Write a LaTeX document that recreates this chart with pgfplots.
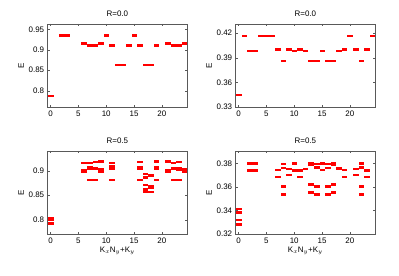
\documentclass[border=0pt]{standalone}
\usepackage{fontspec}
\setmainfont{Liberation Sans}
\usepackage{pgfplots}
\pgfplotsset{compat=1.18}
\pgfplotsset{
  myax/.style={
    scale only axis, width=139.3bp, height=83bp, anchor=south west,
    xmin=-0.5, xmax=24.5, xtick={0,5,10,15,20},
    tick align=inside, tick pos=both, major tick length=2bp,
    axis line style={gray!70!black, line width=0.5pt},
    tick style={gray!70!black},
    tick label style={font=\fontsize{8}{9}\selectfont},
    label style={font=\fontsize{8}{9}\selectfont},
    title style={font=\fontsize{8}{9}\selectfont, yshift=-2bp},
    /pgf/number format/assume math mode=true,
    /pgf/number format/.cd, fixed, precision=2, /pgfplots/.cd,
    ylabel={E}, ylabel style={yshift=-2bp},
  },
  dat/.style={only marks, mark=square*, mark size=2.3bp, color=red,
    mark options={draw=none, fill=red, yscale=0.3}},
}
\begin{document}
\begin{tikzpicture}
\useasboundingbox (0,0) rectangle (399bp,276bp);
% top-left
\begin{axis}[myax, at={(47.7bp,169bp)}, ymin=0.76, ymax=0.963, ytick={0.8,0.85,0.9,0.95}, title={R=0.0}]
\addplot[dat] coordinates {(0,0.787) (2,0.936) (3,0.936) (6,0.916) (7,0.911) (8,0.911) (9,0.916) (10,0.936) (11,0.911) (12,0.864) (13,0.864) (14,0.911) (15,0.936) (16,0.911) (17,0.864) (18,0.864) (19,0.911) (21,0.916) (22,0.911) (23,0.911) (24,0.916)};
\end{axis}
% top-right
\begin{axis}[myax, at={(235.7bp,169bp)}, ymin=0.33, ymax=0.431, ytick={0.33,0.36,0.39,0.42}, title={R=0.0}]
\addplot[dat] coordinates {(0,0.345) (1,0.4164) (2,0.3988) (3,0.3988) (4,0.4164) (5,0.4164) (6,0.4164) (7,0.4005) (8,0.3863) (9,0.4005) (10,0.3988) (11,0.4005) (12,0.3988) (13,0.3863) (14,0.3863) (15,0.3988) (16,0.3863) (17,0.3863) (18,0.3988) (19,0.4005) (20,0.4164) (21,0.4005) (22,0.3863) (23,0.4005) (24,0.4164)};
\end{axis}
% bottom-left
\begin{axis}[myax, at={(47.7bp,42bp)}, ymin=0.771, ymax=0.94, ytick={0.8,0.85,0.9}, title={R=0.5}, xlabel={K$_x$N$_y$+K$_y$}, xlabel style={yshift=3bp}]
\addplot[dat] coordinates {
(0,0.804) (0,0.800) (0,0.793)
(6,0.9166) (6,0.902) (6,0.8986)
(7,0.9166) (7,0.9076) (7,0.9041) (7,0.882)
(8,0.918) (8,0.9055) (8,0.9034) (8,0.882)
(9,0.919) (9,0.9034) (9,0.8986)
(11,0.9166) (11,0.9097) (11,0.9048) (11,0.882)
(16,0.918) (16,0.9069) (16,0.9034) (16,0.882)
(17,0.894) (17,0.8866) (17,0.872) (17,0.862) (17,0.857)
(18,0.8916) (18,0.8894) (18,0.8685) (18,0.8647) (18,0.8566)
(19,0.919) (19,0.9069) (19,0.9034) (19,0.882)
(21,0.919) (21,0.902) (21,0.8986)
(22,0.9166) (22,0.906) (22,0.904) (22,0.882)
(23,0.918) (23,0.905) (23,0.903) (23,0.882)
(24,0.9034) (24,0.8986)};
\end{axis}
% bottom-right
\begin{axis}[myax, at={(235.7bp,42bp)}, ymin=0.32, ymax=0.3906, ytick={0.32,0.34,0.36,0.38}, title={R=0.5}, xlabel={K$_x$N$_y$+K$_y$}, xlabel style={yshift=3bp}]
\addplot[dat] coordinates {
(0,0.3413) (0,0.3384) (0,0.3321) (0,0.3283)
(2,0.3803) (2,0.3743) (3,0.3803) (3,0.3743)
(7,0.3745) (7,0.3685)
(8,0.3800) (8,0.3766) (8,0.3608) (8,0.3539)
(9,0.3754) (9,0.3702)
(10,0.3803) (10,0.3743)
(11,0.3743) (11,0.3685)
(12,0.3757)
(13,0.3806) (13,0.3791) (13,0.3622) (13,0.3556)
(14,0.3797) (14,0.3768) (14,0.3605) (14,0.3539)
(15,0.3803) (15,0.3748)
(16,0.3797) (16,0.3763) (16,0.3608) (16,0.3539)
(17,0.3806) (17,0.3791) (17,0.3622) (17,0.3556)
(18,0.3760)
(19,0.3745) (19,0.3685)
(21,0.3757) (21,0.3702)
(22,0.3803) (22,0.3768) (22,0.3608) (22,0.3539)
(23,0.3743) (23,0.3685)};
\end{axis}
\end{tikzpicture}
\end{document}
